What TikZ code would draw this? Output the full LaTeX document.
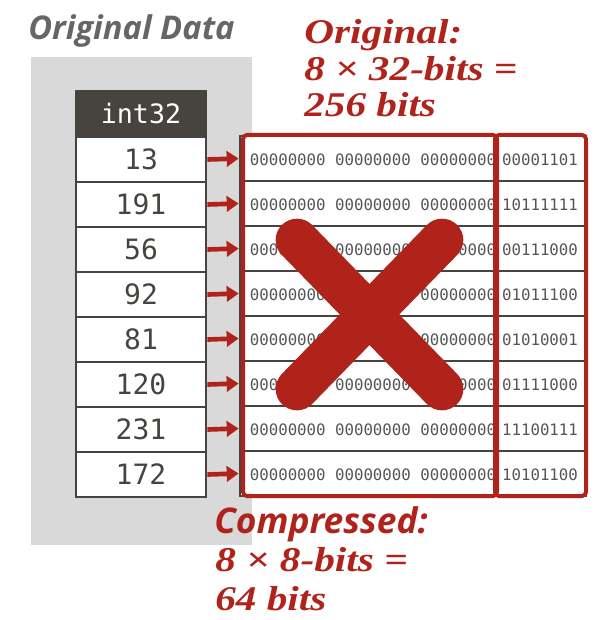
\documentclass[tikz,border=0pt]{standalone}
\usepackage{fontspec}
\usetikzlibrary{arrows.meta}
\newfontfamily\titlefont{Open Sans}
\newfontfamily\calcfont[FakeStretch=1.19]{Liberation Serif}
\newfontfamily\cellfont{DejaVu Sans Mono}
\definecolor{cmured}{HTML}{B0231A}
\definecolor{celldark}{HTML}{474440}
\definecolor{bggray}{HTML}{D9D9D9}
\definecolor{titlegray}{HTML}{666666}
\definecolor{bitgray}{HTML}{555555}
\tikzset{
  hdrcell/.style={draw=celldark,fill=celldark,line width=2pt,minimum width=97.5pt,minimum height=33.75pt,
    inner sep=0pt,text=white,font=\cellfont\fontsize{20}{20}\selectfont},
  valcell/.style={draw=celldark,fill=white,line width=2pt,minimum width=97.5pt,minimum height=33.75pt,
    inner sep=0pt,text=celldark,font=\cellfont\fontsize{21}{20}\selectfont},
  bitrow/.style={draw=celldark,fill=white,line width=2pt,minimum width=259.5pt,minimum height=33.75pt,inner sep=0pt},
  bittext/.style={inner sep=0pt,text=bitgray,font=\cellfont\fontsize{11.8}{12}\selectfont},
  redbox/.style={draw=cmured,line width=3pt,rounded corners=3pt},
  ptr/.style={cmured,line width=3.5pt,-{Triangle[length=9pt,width=11.5pt]}},
  calc/.style={text=cmured,inner sep=0pt,align=left,anchor=base west},
}
\begin{document}
\begin{tikzpicture}[x=0.75pt,y=-0.75pt]
  \useasboundingbox (0,0) rectangle (614,620);
  \fill[bggray] (31,57) rectangle (252,545);
  \node[inner sep=0pt,anchor=base west,text=titlegray,font=\titlefont\bfseries\itshape\fontsize{24.5}{24}\selectfont]
    (datatitle) at (28,40) {Original Data};
  \node[hdrcell] (hdr) at (141,114) {int32};
% one row per value: cell, bits, pointer
  \foreach \v/\lo [count=\i] in {13/00001101,191/10111111,56/00111000,92/01011100,
      81/01010001,120/01111000,231/11100111,172/10101100}{%
    \node[valcell] (c\i) at (141,114.5+45*\i) {\v};
    \node[bitrow] (b\i) at (413,113.5+45*\i) {};
    \node[bittext] (hi\i) at (373,115+45*\i) {00000000 00000000 00000000};
    \node[bittext] (lo\i) at (540,115+45*\i) {\lo};
    \draw[ptr] (c\i.east) -- (b\i.west);
  }
  \draw[redbox] (243,135) rectangle (497,496);
  \draw[redbox] (495,135) rectangle (586,496);
% the big cross
  \draw[cmured,line width=32pt,line cap=round] (297,240) -- (442,389);
  \draw[cmured,line width=32pt,line cap=round] (442,240) -- (297,389);
  \node[calc,font=\calcfont\bfseries\itshape\fontsize{26}{27.4}\selectfont] (origsize) at (304,117)
    {Original:\\8 × 32-bits =\\256 bits};
  \node[calc,font=\calcfont\bfseries\itshape\fontsize{26}{29}\selectfont] (compsize) at (215,610)
    {8 × 8-bits =\\64 bits};
  \node[calc,font=\titlefont\bfseries\itshape\fontsize{26.5}{26}\selectfont] (comptitle) at (214,533)
    {Compressed:};
\end{tikzpicture}
\end{document}
